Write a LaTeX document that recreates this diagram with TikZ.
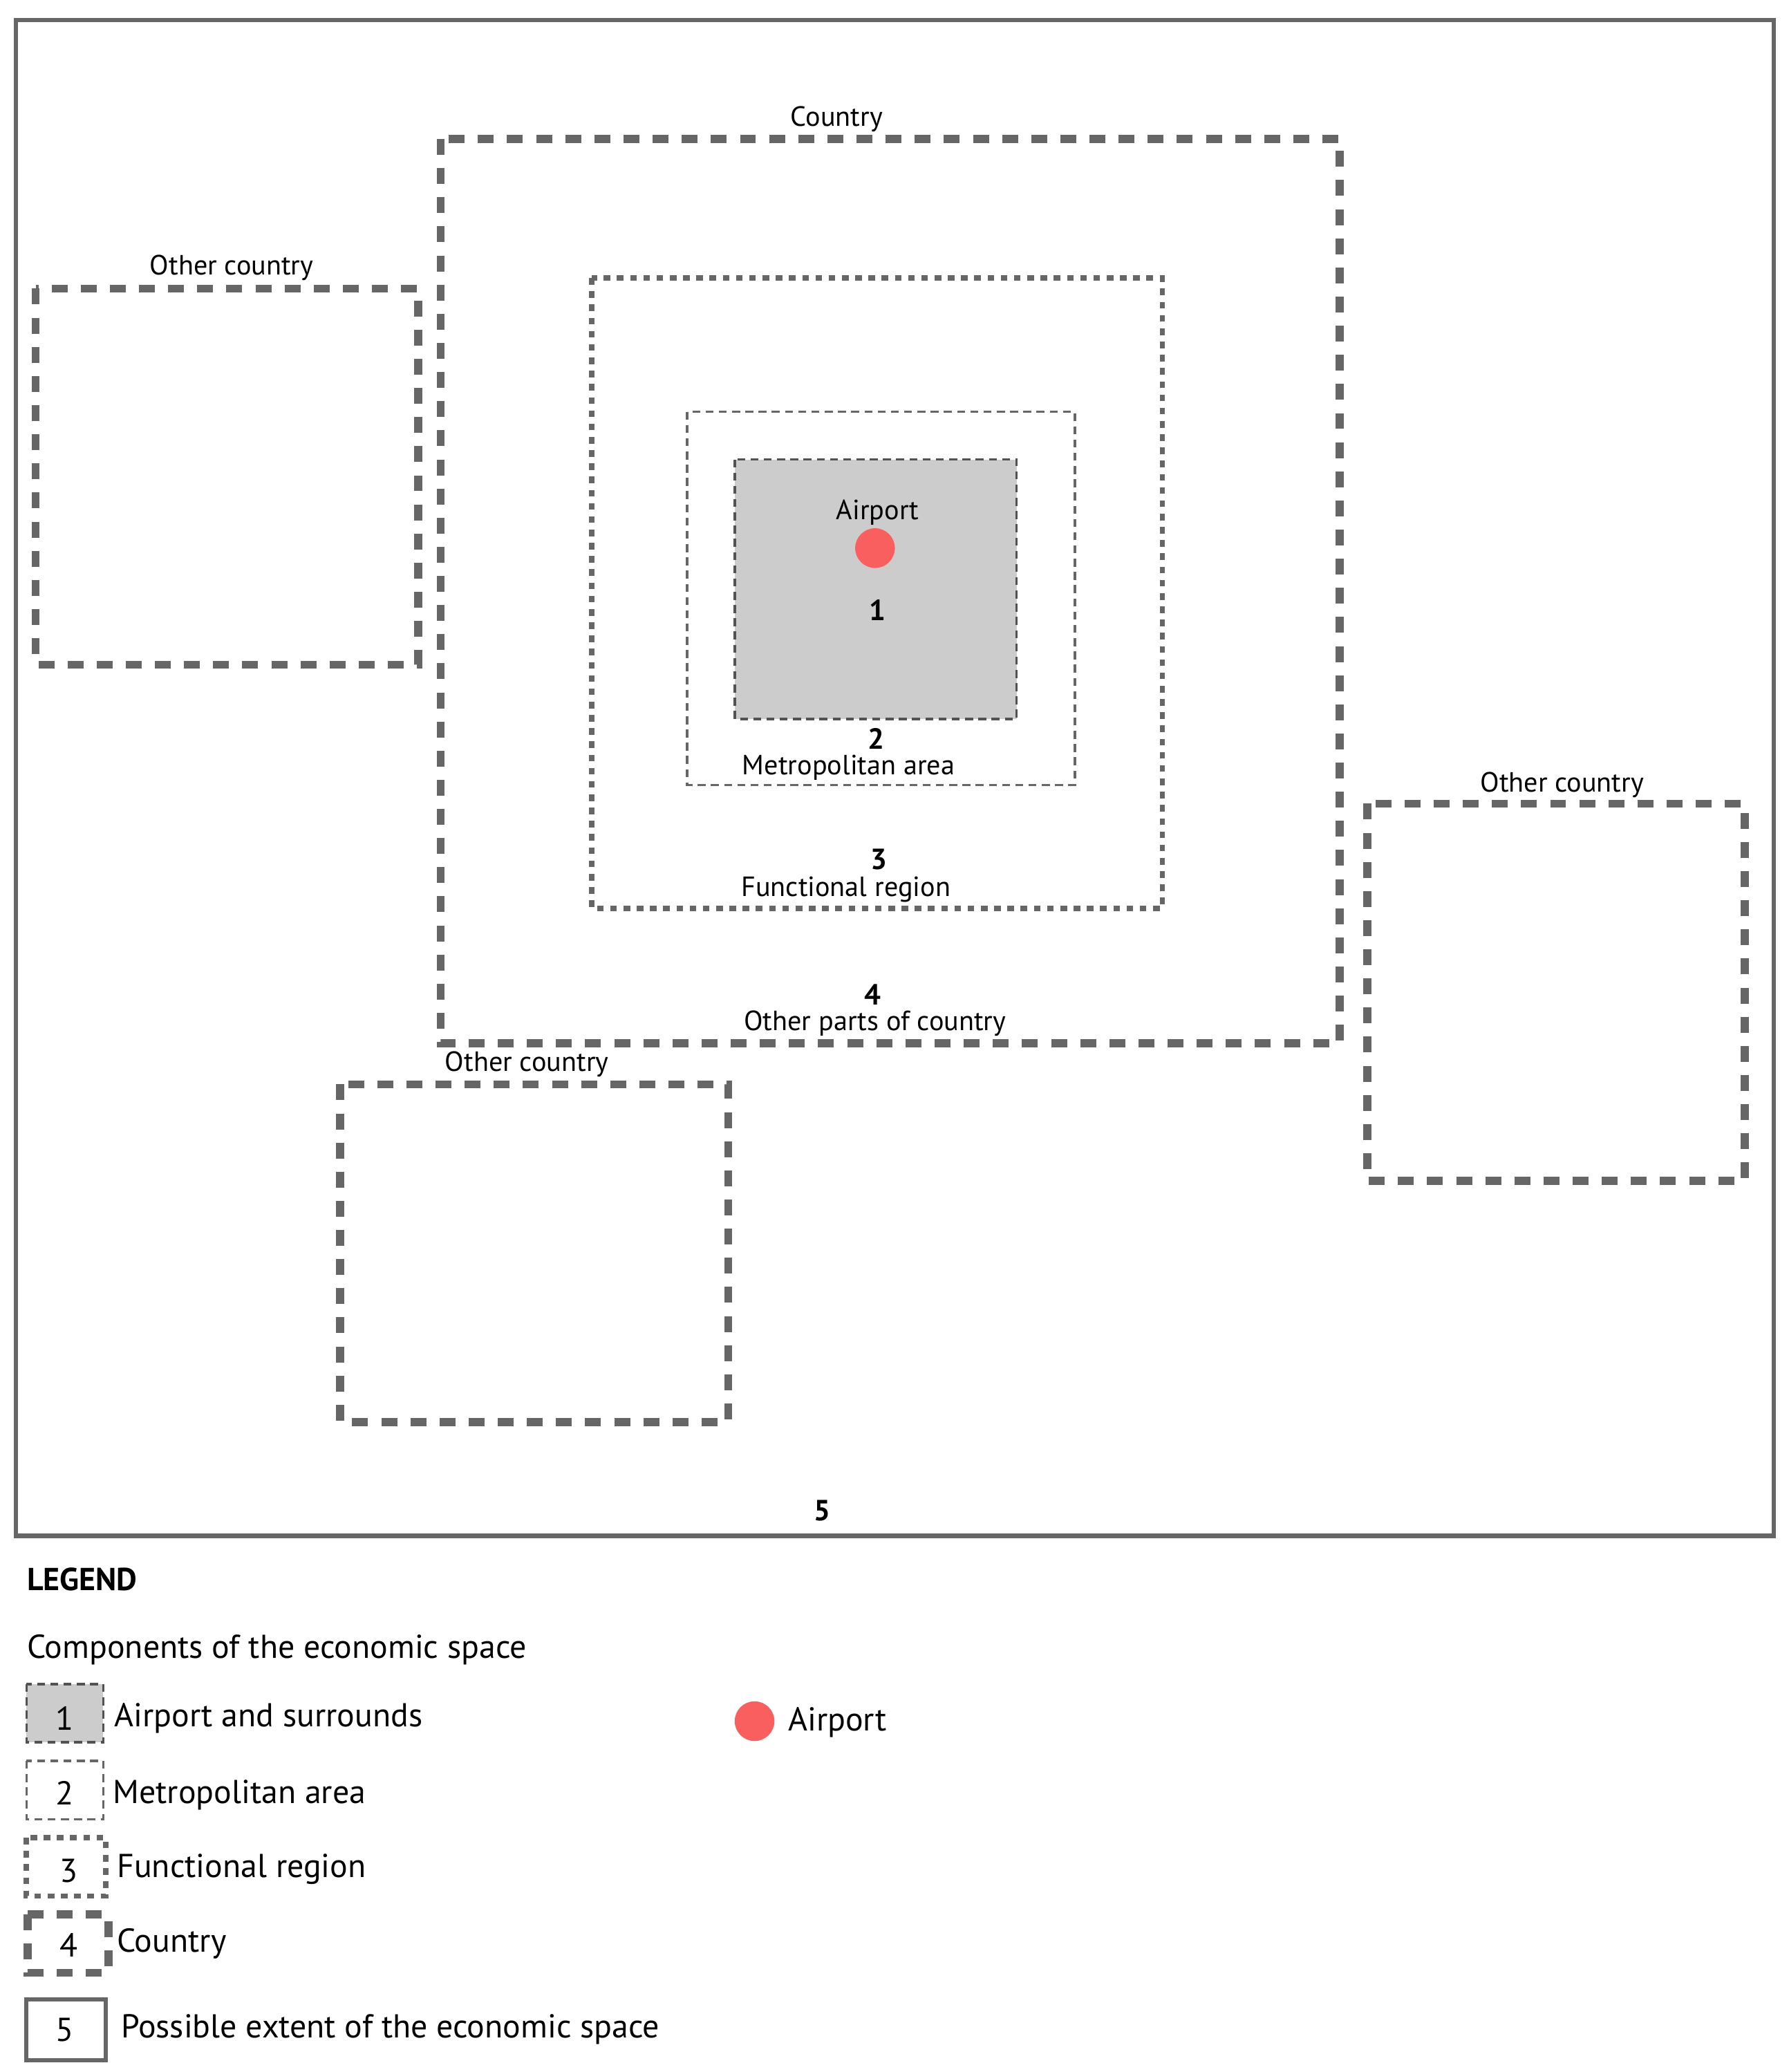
\documentclass[tikz,border=0pt]{standalone}
\usepackage{fontspec}
\setmainfont{PT Sans}
\definecolor{bx}{gray}{0.4}
\definecolor{apt}{RGB}{250,95,95}
\begin{document}
\begin{tikzpicture}[x=0.5pt,y=-0.5pt,
 lbl/.style={font=\fontsize{10.5}{12}\selectfont,inner sep=0pt},
 leg/.style={font=\fontsize{12.5}{14}\selectfont,inner sep=0pt},
 num/.style={font=\fontsize{11}{12}\selectfont\bfseries,inner sep=0pt},
 ctry/.style={draw=bx,line width=3pt,dash pattern=on 6pt off 5pt},
 func/.style={draw=bx,line width=2pt,dash pattern=on 2.5pt off 2.5pt},
 metro/.style={draw=bx,line width=0.9pt,dash pattern=on 3pt off 2pt},
 air/.style={draw=bx!80!black,line width=0.9pt,dash pattern=on 3pt off 2pt,fill=black!20},
 outer/.style={draw=bx,line width=1.6pt},
 dot/.style={circle,fill=apt,minimum size=15pt,inner sep=0pt}]
\useasboundingbox (0,0) rectangle (1351,1565);
\draw[outer] (12,15) rectangle (1340,1160);
\draw[ctry] (333,105) rectangle (1012,788);
\draw[ctry] (27,218) rectangle (316,502);
\draw[ctry] (1033,607) rectangle (1318,892);
\draw[ctry] (257,819) rectangle (550,1074);
\draw[func] (447,210) rectangle (878,686);
\draw[metro] (519,311) rectangle (812,593);
\draw[air] (555,347) rectangle (768,543);
\node[dot] (ap) at (661,414) {};
\node[lbl] (tc) at (632,90) {Country};
\node[lbl] (t1) at (175,202) {Other country};
\node[lbl] (t2) at (1180,593) {Other country};
\node[lbl] (t3) at (398,804) {Other country};
\node[lbl] (ta) at (663,387) {Airport};
\node[num] (n1) at (663,461) {1};
\node[num] (n2) at (662,558) {2};
\node[lbl] (tm) at (641,580) {Metropolitan area};
\node[num] (n3) at (664,649) {3};
\node[lbl] (tf) at (639,672) {Functional region};
\node[num] (n4) at (659,751) {4};
\node[lbl] (to) at (661,773) {Other parts of country};
\node[num] (n5) at (621,1141) {5};
% legend
\node[num,font=\fontsize{12}{14}\selectfont\bfseries,anchor=west] (lg) at (20,1193) {LEGEND};
\node[leg,anchor=west] (cp) at (20,1246) {Components of the economic space};
\draw[air] (20,1272) rectangle (78,1316);
\node[leg] (b1) at (49,1298) {1};
\node[leg,anchor=west] (l1) at (86,1298) {Airport and surrounds};
\draw[metro] (20,1330) rectangle (78,1374);
\node[leg] (b2) at (49,1354) {2};
\node[leg,anchor=west] (l2) at (85,1356) {Metropolitan area};
\draw[func] (20,1388) rectangle (80,1432);
\node[leg] (b3) at (52,1413) {3};
\node[leg,anchor=west] (l3) at (88,1412) {Functional region};
\draw[ctry] (21,1446) rectangle (82,1490);
\node[leg] (b4) at (52,1469) {4};
\node[leg,anchor=west] (l4) at (88,1468) {Country};
\draw[outer] (20,1510) rectangle (80,1556);
\node[leg] (b5) at (49,1533) {5};
\node[leg,anchor=west] (l5) at (91,1533) {Possible extent of the economic space};
\node[dot] (ld) at (570,1300) {};
\node[leg,anchor=west] (la) at (595,1301) {Airport};
\end{tikzpicture}
\end{document}
